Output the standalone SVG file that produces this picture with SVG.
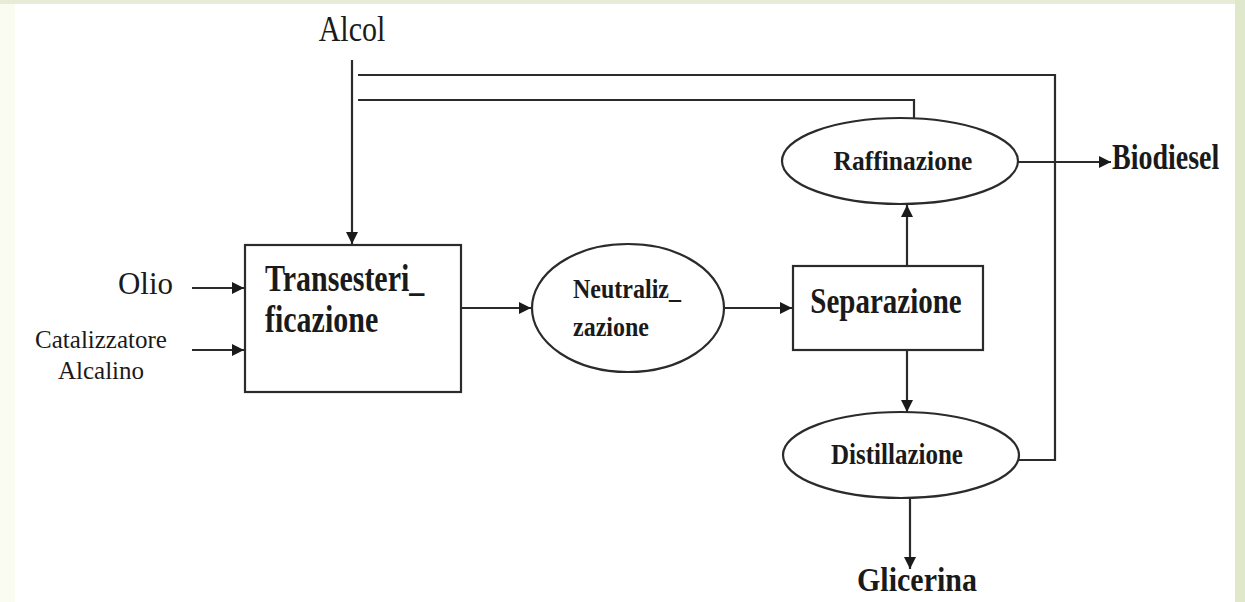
<svg xmlns="http://www.w3.org/2000/svg" width="1245" height="602" viewBox="0 0 1245 602">
<defs>
<marker id="ah" viewBox="0 0 10 10" refX="10" refY="5" markerWidth="12" markerHeight="12" markerUnits="userSpaceOnUse" orient="auto">
<path d="M0,0 L10,5 L0,10 z" fill="#1a1a1a"/>
</marker>
<style>
.ln{fill:none;stroke:#2b2b2b;stroke-width:2.2}
.shp{fill:#ffffff;stroke:#2b2b2b;stroke-width:2.2}
.t{font-family:"Liberation Serif","Times New Roman",serif;fill:#1a1a1a}
.b{font-weight:bold}
</style>
</defs>
<rect x="0" y="0" width="1245" height="602" fill="#ffffff"/>
<rect x="0" y="0" width="15" height="602" fill="#fbfcf1"/>
<rect x="0" y="0" width="1245" height="4" fill="#e6ecd6"/>
<rect x="1235" y="0" width="10" height="602" fill="#e0e8cb"/>

<g id="connectors">
<line class="ln" x1="352" y1="60" x2="352" y2="244" marker-end="url(#ah)"/>
<polyline class="ln" points="358,75 1055,75 1055,460 1019,460"/>
<polyline class="ln" points="358,100 914,100 914,119"/>
<line class="ln" x1="192" y1="288" x2="244" y2="288" marker-end="url(#ah)"/>
<line class="ln" x1="192" y1="350" x2="244" y2="350" marker-end="url(#ah)"/>
<line class="ln" x1="461" y1="308" x2="531" y2="308" marker-end="url(#ah)"/>
<line class="ln" x1="724" y1="308" x2="792" y2="308" marker-end="url(#ah)"/>
<line class="ln" x1="907" y1="266" x2="907" y2="205" marker-end="url(#ah)"/>
<line class="ln" x1="907" y1="350" x2="907" y2="412" marker-end="url(#ah)"/>
<line class="ln" x1="1018" y1="162" x2="1111" y2="162" marker-end="url(#ah)"/>
<line class="ln" x1="910" y1="498" x2="910" y2="569" marker-end="url(#ah)"/>
</g>

<g id="alcol"><text class="t" transform="translate(352,41) scale(1,1.2)" font-size="30" text-anchor="middle">Alcol</text></g>
<g id="olio"><text class="t" x="173" y="294" font-size="31" text-anchor="end">Olio</text></g>
<g id="catalizzatore"><text class="t" x="101" y="348" font-size="25" text-anchor="middle">Catalizzatore</text><text class="t" x="101" y="379" font-size="25" text-anchor="middle">Alcalino</text></g>

<g id="transesterificazione">
<rect class="shp" x="245" y="245" width="216" height="147"/>
<text class="t b" transform="translate(265,291) scale(1,1.25)" font-size="30">Transesteri_</text>
<text class="t b" transform="translate(265,332) scale(1,1.25)" font-size="30">ficazione</text>
</g>

<g id="neutralizzazione">
<ellipse class="shp" cx="628" cy="308" rx="96" ry="64"/>
<text class="t b" transform="translate(573,298) scale(1,1.15)" font-size="24">Neutraliz_</text>
<text class="t b" transform="translate(573,336) scale(1,1.15)" font-size="24">zazione</text>
</g>

<g id="separazione">
<rect class="shp" x="793" y="266" width="190" height="84"/>
<text class="t b" transform="translate(886,313) scale(1,1.25)" font-size="29" text-anchor="middle">Separazione</text>
</g>

<g id="raffinazione">
<ellipse class="shp" cx="900" cy="161" rx="118" ry="43"/>
<text class="t b" transform="translate(903,170) scale(1,1.1)" font-size="25.5" text-anchor="middle">Raffinazione</text>
</g>

<g id="distillazione">
<ellipse class="shp" cx="901" cy="455" rx="118" ry="43"/>
<text class="t b" transform="translate(897,464) scale(1,1.2)" font-size="25" text-anchor="middle">Distillazione</text>
</g>

<g id="biodiesel"><text class="t b" transform="translate(1112,169) scale(1,1.3)" font-size="28">Biodiesel</text></g>
<g id="glicerina"><text class="t b" transform="translate(917,591) scale(1,1.12)" font-size="30" text-anchor="middle">Glicerina</text></g>
</svg>
